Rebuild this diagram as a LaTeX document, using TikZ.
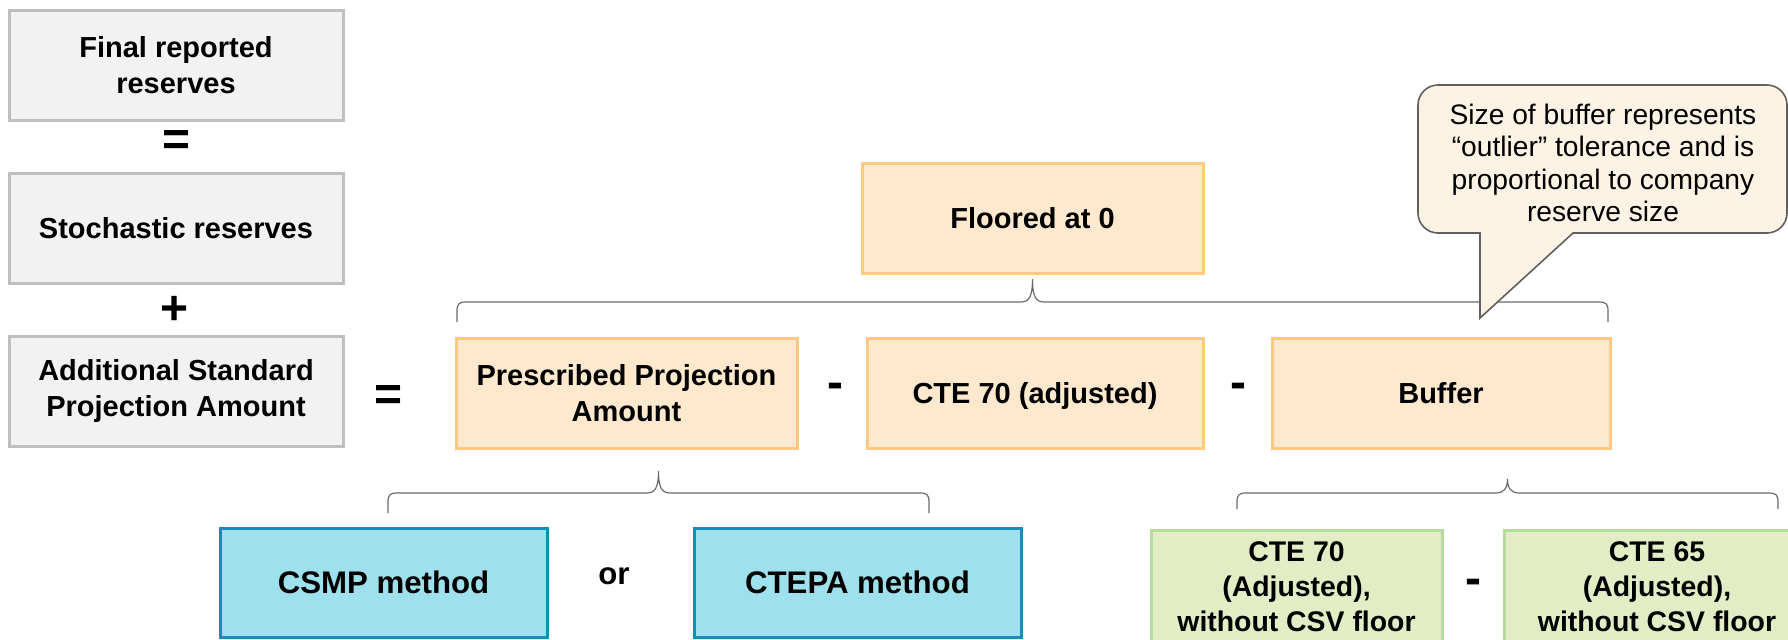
\documentclass[tikz,border=0pt]{standalone}
\usepackage{fontspec}
\setmainfont{Liberation Sans}

\definecolor{greyfill}{HTML}{F2F2F2}
\definecolor{greyline}{HTML}{BFBFBF}
\definecolor{orangefill}{HTML}{FEE9CF}
\definecolor{orangeline}{HTML}{FFC983}
\definecolor{bluefill}{HTML}{9FE0ED}
\definecolor{blueline}{HTML}{118FB8}
\definecolor{greenfill}{HTML}{E2ECC5}
\definecolor{greenline}{HTML}{B8DA9E}
\definecolor{notefill}{HTML}{FDF3E5}
\definecolor{noteline}{HTML}{606060}
\definecolor{braceline}{HTML}{6A6A6A}

% horizontal curly brace: x-left, x-tip, x-right, y-tip, y-bar, y-ends
\newcommand\drawbrace[6]{%
  \draw[bracestyle] (#1,#6) -- (#1,{#5+9})
    .. controls (#1,{#5+2}) and ({#1+2},#5) .. ({#1+9},#5)
    -- ({#2-12},#5)
    .. controls ({#2-4},#5) and (#2,{#5-4}) .. (#2,#4)
    .. controls (#2,{#5-4}) and ({#2+4},#5) .. ({#2+12},#5)
    -- ({#3-9},#5)
    .. controls ({#3-2},#5) and (#3,{#5+2}) .. (#3,{#5+9})
    -- (#3,#6);}

\begin{document}
\begin{tikzpicture}[x=0.5pt,y=-0.5pt,
  box/.style={draw, line width=1.5pt, inner sep=2pt, align=center,
    font=\bfseries\fontsize{14.5pt}{18pt}\selectfont},
  greybox/.style={box, fill=greyfill, draw=greyline,
    minimum width=167pt, minimum height=55pt},
  orangebox/.style={box, fill=orangefill, draw=orangeline, minimum height=55pt},
  bluebox/.style={box, fill=bluefill, draw=blueline, minimum width=163.5pt,
    minimum height=54.5pt, font=\bfseries\fontsize{15.6pt}{19pt}\selectfont},
  greenbox/.style={box, fill=greenfill, draw=greenline, minimum height=57pt,
    font=\bfseries\fontsize{14.2pt}{17.5pt}\selectfont},
  op/.style={inner sep=0pt, font=\bfseries\fontsize{24pt}{28pt}\selectfont},
  bracestyle/.style={draw=braceline, line width=0.6pt},
  notestyle/.style={draw=noteline, fill=notefill, line width=0.8pt},
  notetext/.style={align=center, inner sep=0pt,
    font=\fontsize{14.1pt}{16.3pt}\selectfont}]

\useasboundingbox (0,0) rectangle (1788,639);
\clip (0,0) rectangle (1788,639);

% left column
\node[greybox] (fin) at (176,65) {Final reported\\reserves};
\node[op] (eq1) at (177,143) {=};
\node[greybox] (stoch) at (176,228) {Stochastic reserves};
\node[op] (plus) at (175,310) {+};
\node[greybox] (asp) at (176,391) {Additional Standard\\Projection Amount};
\node[op] (eq2) at (389,398) {=};

% floored term
\node[orangebox, minimum width=170.5pt] (floor) at (1032.5,218) {Floored at 0};

% main difference
\node[orangebox, minimum width=170.5pt] (ppa) at (626.5,393) {Prescribed Projection\\Amount};
\node[op] (minus1) at (835,391) {-};
\node[orangebox, minimum width=168pt, text depth=0pt] (cte70) at (1035,393) {CTE 70 (adjusted)};
\node[op] (minus2) at (1238,391) {-};
\node[orangebox, minimum width=169pt] (buffer) at (1441,393) {Buffer};

% braces
\drawbrace{457}{1032.5}{1608}{279}{302}{322}
\drawbrace{388}{658.5}{929}{471}{493}{513}
\drawbrace{1237}{1507.5}{1778}{479}{493}{509}

% methods
\node[bluebox] (csmp) at (383.5,582.5) {CSMP method};
\node[inner sep=0pt, font=\bfseries\fontsize{15.6pt}{19pt}\selectfont] (orword) at (614,576) {or};
\node[bluebox] (ctepa) at (857.5,582.5) {CTEPA method};

% buffer components
\node[greenbox, minimum width=145.5pt] (cte70a) at (1296.5,587) {CTE 70\\(Adjusted),\\without CSV floor};
\node[op] (minus3) at (1473,587) {-};
\node[greenbox, minimum width=153pt] (cte65) at (1657,587) {CTE 65\\(Adjusted),\\without CSV floor};

% callout
\draw[notestyle] (1450,233) [rounded corners=10pt] -- (1418,233) -- (1418,85)
  -- (1787,85) -- (1787,233) -- (1600,233) [sharp corners] -- (1573,233)
  -- (1480,318) -- (1480,233) -- cycle;
\node[notetext] (note) at (1603,163) {Size of buffer represents\\“outlier” tolerance and is\\proportional to company\\reserve size};

\end{tikzpicture}
\end{document}
